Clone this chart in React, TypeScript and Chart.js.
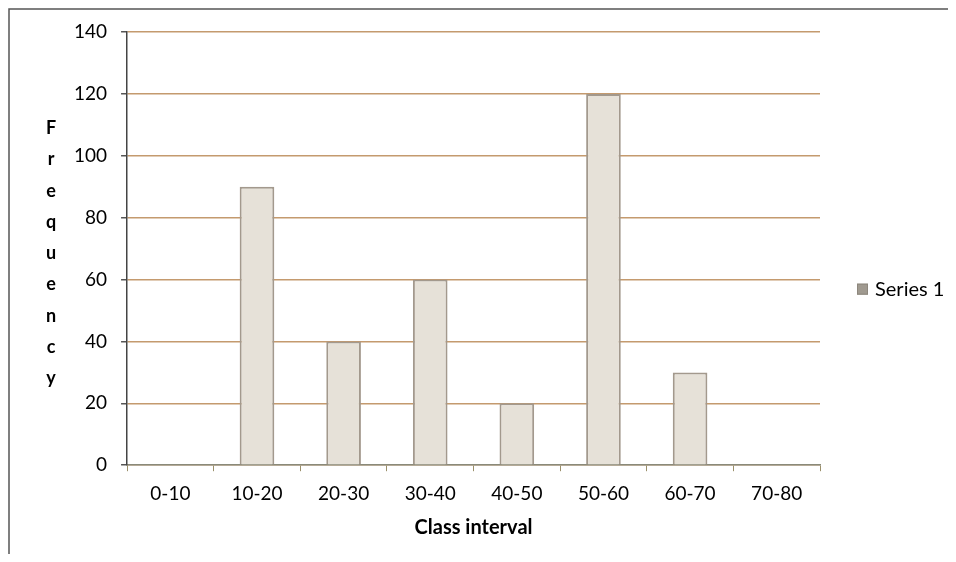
import React, { useEffect, useRef } from "react";
import { Chart, registerables } from "chart.js";

Chart.register(...registerables);

const categories = ["0-10", "10-20", "20-30", "30-40", "40-50", "50-60", "60-70", "70-80"];
const frequencies = [0, 90, 40, 60, 20, 120, 30, 0];
const seriesName = "Series 1";
const yTitleLetters = ["F", "r", "e", "q", "u", "e", "n", "c", "y"];
const xTitle = "Class interval";

const FONT = "Lato, 'Open Sans', 'DejaVu Sans', sans-serif";

const framePlugin = {
  id: "frameTitleLegend",
  beforeDraw(chart: any) {
    const { ctx } = chart;
    ctx.save();
    ctx.strokeStyle = "#555";
    ctx.lineWidth = 1.5;
    ctx.beginPath();
    ctx.moveTo(1, chart.height);
    ctx.lineTo(1, 1);
    ctx.lineTo(chart.width, 1);
    ctx.stroke();
    ctx.restore();
  },
  afterDraw(chart: any) {
    const { ctx, chartArea } = chart;
    ctx.save();
    // vertical stacked y-axis title
    ctx.fillStyle = "#000";
    ctx.font = `bold 18px ${FONT}`;
    ctx.textAlign = "center";
    ctx.textBaseline = "middle";
    const step = 31.3;
    const startY = chartArea.top + 96;
    yTitleLetters.forEach((ch, i) => {
      ctx.fillText(ch, 43, startY + i * step);
    });
    // legend
    const ds = chart.data.datasets[0];
    const lx = chartArea.right + 37;
    const ly = chartArea.top + 257;
    ctx.fillStyle = "#a09a90";
    ctx.strokeStyle = "#8d877d";
    ctx.lineWidth = 1;
    ctx.fillRect(lx, ly - 5.5, 11, 11);
    ctx.strokeRect(lx + 0.5, ly - 5, 10, 10);
    ctx.fillStyle = "#000";
    ctx.font = `20px ${FONT}`;
    ctx.textAlign = "left";
    ctx.fillText(ds.label, lx + 18, ly);
    ctx.restore();
  },
};

export default function App() {
  const ref = useRef<HTMLCanvasElement | null>(null);
  useEffect(() => {
    if (!ref.current) return;
    const chart = new Chart(ref.current, {
      type: "bar",
      data: {
        labels: categories,
        datasets: [
          {
            label: seriesName,
            data: frequencies,
            backgroundColor: "#e6e1d8",
            borderColor: "#a3998d",
            borderWidth: 2,
            barPercentage: 0.4,
            categoryPercentage: 1,
          },
        ],
      },
      options: {
        animation: false,
        responsive: false,
        layout: { padding: { left: 52, top: 6, right: 128, bottom: 14 } },
        plugins: {
          tooltip: { enabled: false },
          legend: { display: false },
        },
        scales: {
          x: {
            offset: true,
            grid: {
              offset: true,
              drawOnChartArea: false,
              drawTicks: true,
              tickLength: 6,
              color: "#9a8f6a",
            },
            border: { color: "#8a8a7a", width: 1.5 },
            ticks: {
              color: "#000",
              font: { family: FONT, size: 19 },
              padding: 11,
              maxRotation: 0,
            },
            title: {
              display: true,
              text: xTitle,
              color: "#000",
              font: { family: FONT, size: 20, weight: "bold" },
              padding: { top: 0, bottom: 0 },
            },
          },
          y: {
            min: 0,
            max: 140,
            ticks: {
              stepSize: 20,
              color: "#000",
              font: { family: FONT, size: 19, lineHeight: 1.07 },
              padding: 14,
            },
            grid: {
              color: "#c49a6e",
              lineWidth: 1.5,
              tickLength: 6,
              tickColor: "#555",
            },
            border: { color: "#444", width: 1.5 },
          },
        },
      },
      plugins: [framePlugin],
    });
    return () => chart.destroy();
  }, []);
  return (
    <div style={{ width: 940, height: 546 }}>
      <canvas ref={ref} width={940} height={546} />
    </div>
  );
}
